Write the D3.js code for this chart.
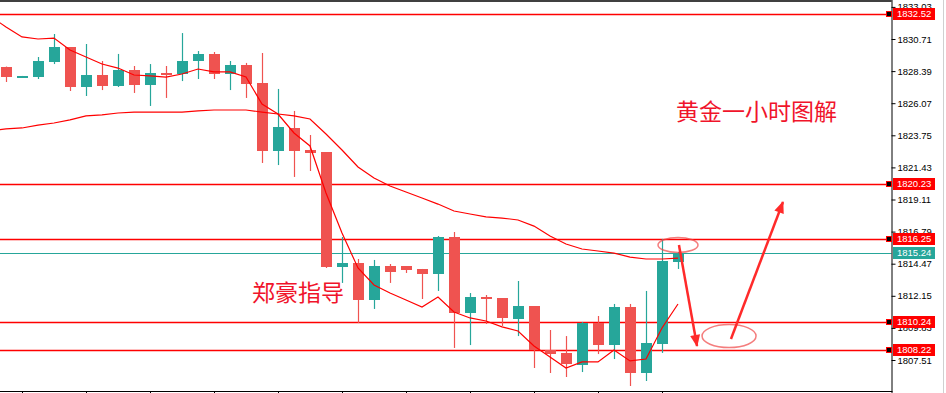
<!DOCTYPE html>
<html>
<head>
<meta charset="utf-8">
<script src="https://cdn.jsdelivr.net/npm/d3@7"></script>
<style>
  body { margin: 0; background: #fff; }
  svg { display: block; }
</style>
</head>
<body>
<script>
// one hour gold candles, oldest first
const opens  = [1828.69, 1828.03, 1827.96, 1829.05, 1830.13, 1827.24, 1828.11, 1827.31, 1828.47, 1827.39,
                1828.25, 1828.18, 1829.12, 1829.63, 1828.18, 1828.83, 1827.53, 1822.62, 1824.28, 1822.69,
                1822.54, 1814.23, 1814.52, 1811.85, 1814.30, 1814.30, 1814.09, 1813.73, 1816.40, 1810.91,
                1812.06, 1811.99, 1810.47, 1811.41, 1808.23, 1808.02, 1807.15, 1810.18, 1808.59, 1811.34,
                1806.57, 1808.67, 1814.59];
const highs  = [1828.72, 1828.04, 1829.41, 1831.07, 1830.13, 1830.35, 1829.12, 1829.63, 1828.76, 1828.90,
                1828.76, 1831.14, 1829.84, 1829.77, 1829.12, 1828.98, 1829.70, 1827.10, 1825.51, 1823.77,
                1822.54, 1816.40, 1814.81, 1814.74, 1814.45, 1814.30, 1814.09, 1816.47, 1816.76, 1812.35,
                1812.21, 1811.99, 1813.22, 1811.41, 1809.68, 1809.24, 1810.26, 1810.69, 1811.56, 1811.56,
                1812.50, 1816.26, 1815.32];
const lows   = [1827.60, 1828.03, 1827.82, 1828.90, 1826.95, 1826.59, 1827.02, 1827.24, 1826.81, 1825.87,
                1826.45, 1827.67, 1827.82, 1827.82, 1827.02, 1826.45, 1821.75, 1821.60, 1820.74, 1821.17,
                1814.16, 1813.08, 1810.18, 1811.20, 1813.08, 1813.80, 1811.92, 1812.50, 1808.38, 1808.59,
                1810.11, 1809.97, 1809.24, 1806.93, 1806.57, 1806.28, 1806.64, 1807.94, 1807.58, 1805.63,
                1805.99, 1808.02, 1814.09];
const closes = [1827.96, 1828.04, 1829.12, 1830.13, 1827.24, 1828.11, 1827.31, 1828.47, 1827.39, 1828.25,
                1828.25, 1829.12, 1829.63, 1828.18, 1828.83, 1827.46, 1822.62, 1824.35, 1822.62, 1822.47,
                1814.23, 1814.52, 1811.85, 1814.30, 1813.87, 1814.01, 1813.73, 1816.40, 1810.91, 1812.06,
                1811.92, 1810.55, 1811.41, 1808.23, 1807.94, 1807.22, 1810.18, 1808.59, 1811.34, 1806.57,
                1808.74, 1814.67, 1815.24];

// moving averages, first value belongs to the bar before the window
const fastMA = [1832.37, 1831.58, 1830.86, 1830.71, 1830.78, 1829.92, 1829.41, 1828.90, 1828.61, 1828.11,
                1828.04, 1827.96, 1828.18, 1828.54, 1828.33, 1828.33, 1827.96, 1826.01, 1825.29, 1823.92,
                1822.98, 1819.58, 1816.69, 1814.16, 1812.93, 1812.35, 1811.85, 1811.34, 1812.06, 1810.98,
                1810.55, 1810.33, 1809.90, 1809.61, 1808.52, 1807.73, 1806.93, 1807.37, 1807.37, 1808.23,
                1807.44, 1807.58, 1809.82, 1811.56];
const slowMA = [1824.06, 1824.21, 1824.28, 1824.49, 1824.64, 1824.86, 1825.15, 1825.22, 1825.36, 1825.43,
                1825.43, 1825.43, 1825.43, 1825.51, 1825.58, 1825.58, 1825.58, 1825.43, 1825.29, 1825.15,
                1824.93, 1823.84, 1822.69, 1821.46, 1820.66, 1820.09, 1819.65, 1819.22, 1818.78, 1818.28,
                1818.06, 1817.85, 1817.77, 1817.63, 1817.19, 1816.47, 1815.89, 1815.53, 1815.39, 1815.24,
                1814.95, 1814.81, 1814.81, 1814.88];

const priceTicks = [1833.03, 1830.71, 1828.39, 1826.07, 1823.75, 1821.43, 1819.11,
                    1816.79, 1814.47, 1812.15, 1809.83, 1807.51];
const levels = [1832.52, 1820.23, 1816.25, 1810.24, 1808.22];
const bidPrice = 1815.24;

const width = 946, height = 393;
const plotRight = 891.5;

const bull = "#26a69a", bear = "#ef5350", lineRed = "#ff0000", noteRed = "#f0142b";

const svg = d3.select("body")
    .append("svg")
    .attr("width", width)
    .attr("height", height);

const x = d3.scaleLinear().domain([0, 42]).range([6, 678]);
const y = d3.scaleLinear().domain([1807.51, 1830.71]).range([360, 39]);

const plot = svg.append("g");

// frame
plot.append("line")
    .attr("x1", 0).attr("x2", plotRight)
    .attr("y1", 1).attr("y2", 1)
    .attr("stroke", "#000").attr("stroke-width", 1.5);
svg.append("line")
    .attr("x1", 943.5).attr("x2", 943.5)
    .attr("y1", 0).attr("y2", height)
    .attr("stroke", "#d0d0d0");

// price levels
plot.selectAll(".level")
    .data(levels)
    .enter()
    .append("line")
    .attr("x1", 0).attr("x2", plotRight)
    .attr("y1", d => Math.round(y(d)) + 0.5)
    .attr("y2", d => Math.round(y(d)) + 0.5)
    .attr("stroke", lineRed)
    .attr("stroke-width", 1.3);

plot.append("line")
    .attr("x1", 0).attr("x2", plotRight)
    .attr("y1", Math.round(y(bidPrice)) + 0.5)
    .attr("y2", Math.round(y(bidPrice)) + 0.5)
    .attr("stroke", bull)
    .attr("stroke-width", 1);

// candles
const idx = d3.range(opens.length);
const candles = plot.selectAll(".candle")
    .data(idx)
    .enter()
    .append("g")
    .attr("class", "candle");

candles.append("line")
    .attr("x1", i => Math.round(x(i)) + 0.5)
    .attr("x2", i => Math.round(x(i)) + 0.5)
    .attr("y1", i => y(highs[i]))
    .attr("y2", i => y(lows[i]))
    .attr("stroke", i => closes[i] > opens[i] ? bull : bear)
    .attr("stroke-width", 1.2);

candles.append("rect")
    .attr("x", i => Math.round(x(i)) - 5)
    .attr("width", 11)
    .attr("y", i => y(Math.max(opens[i], closes[i])))
    .attr("height", i => Math.max(2, Math.abs(y(opens[i]) - y(closes[i]))))
    .attr("fill", i => closes[i] > opens[i] ? bull : bear)
    .attr("shape-rendering", "crispEdges");

// moving averages
const maLine = d3.line()
    .x((d, i) => x(i - 1))
    .y(d => y(d));

plot.append("path")
    .datum(slowMA)
    .attr("d", maLine)
    .attr("fill", "none")
    .attr("stroke", lineRed)
    .attr("stroke-width", 1.2);

plot.append("path")
    .datum(fastMA)
    .attr("d", maLine)
    .attr("fill", "none")
    .attr("stroke", lineRed)
    .attr("stroke-width", 1.2);

// right price axis
const axis = d3.axisRight(y)
    .tickValues(priceTicks)
    .tickFormat(d3.format(".2f"))
    .tickSize(4)
    .tickPadding(2);

const gAxis = svg.append("g")
    .attr("transform", `translate(${plotRight},0)`)
    .call(axis);
gAxis.select(".domain").attr("d", `M0.5,0V${height}`).attr("stroke", "#000");
gAxis.selectAll("text")
    .style("font-family", "'Liberation Sans', Arial, sans-serif")
    .style("font-size", "9.5px")
    .attr("fill", "#000");

// bottom time axis (labels fall below the picture)
const timeTicks = idx.filter(i => i % 4 === 1);
svg.append("line")
    .attr("x1", 0).attr("x2", plotRight + 1)
    .attr("y1", 391.5).attr("y2", 391.5)
    .attr("stroke", "#000");
svg.selectAll(".tt")
    .data(timeTicks)
    .enter()
    .append("line")
    .attr("x1", i => Math.round(x(i)) + 0.5)
    .attr("x2", i => Math.round(x(i)) + 0.5)
    .attr("y1", 391).attr("y2", 396)
    .attr("stroke", "#000");

// price tags
const tags = levels.map(v => ({ v: v, c: "#ff0000", mark: true }))
    .concat([{ v: bidPrice, c: bull, mark: false }]);

const tag = svg.selectAll(".tag")
    .data(tags)
    .enter()
    .append("g")
    .attr("transform", d => `translate(0,${Math.round(y(d.v))})`);

tag.append("rect")
    .attr("x", 893).attr("y", -6)
    .attr("width", 42).attr("height", 12)
    .attr("fill", d => d.c);

tag.append("text")
    .attr("x", 897).attr("y", 0)
    .attr("dy", "0.35em")
    .text(d => d.v.toFixed(2))
    .style("font-family", "'Liberation Sans', Arial, sans-serif")
    .style("font-size", "9.5px")
    .attr("fill", "#fff");

tag.filter(d => d.mark)
    .append("rect")
    .attr("x", 886.5).attr("y", -2.5)
    .attr("width", 5).attr("height", 5)
    .attr("fill", "#000")
    .attr("stroke", "#ff0000")
    .attr("stroke-width", 1);

// annotations
const defs = svg.append("defs");
defs.append("marker")
    .attr("id", "head")
    .attr("markerUnits", "userSpaceOnUse")
    .attr("viewBox", "0 0 12 10")
    .attr("refX", 11).attr("refY", 5)
    .attr("markerWidth", 13).attr("markerHeight", 10)
    .attr("orient", "auto")
    .append("path")
    .attr("d", "M0,0L12,5L0,10Z")
    .attr("fill", "#ff2a2a");

const notes = svg.append("g");

notes.append("ellipse")
    .attr("cx", x(42)).attr("cy", y(1815.82))
    .attr("rx", 20).attr("ry", 7.5)
    .attr("fill", "none")
    .attr("stroke", "rgba(240,70,70,0.7)")
    .attr("stroke-width", 1.5);

notes.append("ellipse")
    .attr("cx", x(45.19)).attr("cy", y(1809.24))
    .attr("rx", 27).attr("ry", 11.5)
    .attr("fill", "none")
    .attr("stroke", "rgba(240,70,70,0.7)")
    .attr("stroke-width", 1.5);

notes.append("line")
    .attr("x1", x(42.06)).attr("y1", y(1815.82))
    .attr("x2", x(43.19)).attr("y2", y(1808.52))
    .attr("stroke", "#ff2a2a")
    .attr("stroke-width", 2.5)
    .attr("marker-end", "url(#head)");

notes.append("line")
    .attr("x1", x(45.31)).attr("y1", y(1809.03))
    .attr("x2", x(48.56)).attr("y2", y(1818.93))
    .attr("stroke", "#ff2a2a")
    .attr("stroke-width", 2.5)
    .attr("marker-end", "url(#head)");

notes.append("text")
    .text("黄金一小时图解")
    .attr("x", 676).attr("y", 112)
    .attr("dy", "0.35em")
    .style("font-family", "'Noto Sans CJK SC', sans-serif")
    .style("font-size", "23px")
    .attr("fill", noteRed);

notes.append("text")
    .text("郑豪指导")
    .attr("x", 252).attr("y", 293)
    .attr("dy", "0.35em")
    .style("font-family", "'Noto Sans CJK SC', sans-serif")
    .style("font-size", "23px")
    .attr("fill", noteRed);
</script>
</body>
</html>
